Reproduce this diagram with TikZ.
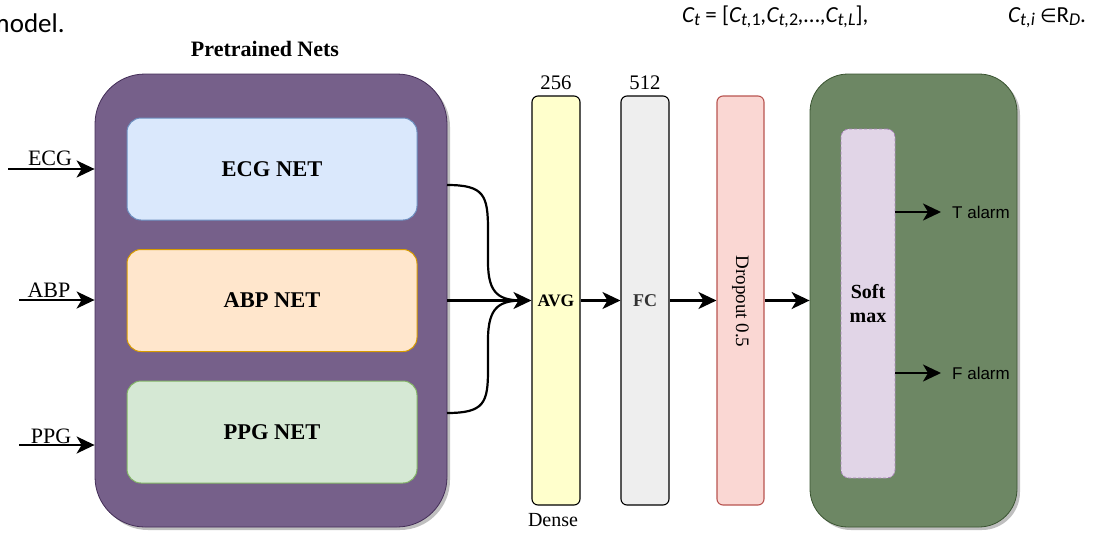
\documentclass[tikz,border=0pt]{standalone}
\usepackage{fontspec}
\setmainfont{Liberation Serif}
\newfontfamily\alarmfont{Liberation Sans}
\newfontfamily\bodyfont{Carlito}
\newfontfamily\symfont{DejaVu Sans}
\usetikzlibrary{arrows.meta,shadows}
\definecolor{purpfill}{HTML}{76608A}
\definecolor{purpline}{HTML}{432D57}
\definecolor{grnfill}{HTML}{6D8764}
\definecolor{grnline}{HTML}{3A5431}
\definecolor{bluefill}{HTML}{DAE8FC}
\definecolor{blueline}{HTML}{6C8EBF}
\definecolor{orgfill}{HTML}{FFE6CC}
\definecolor{orgline}{HTML}{D79B00}
\definecolor{lgfill}{HTML}{D5E8D4}
\definecolor{lgline}{HTML}{82B366}
\definecolor{yelfill}{HTML}{FFFFCC}
\definecolor{greyfill}{HTML}{EEEEEE}
\definecolor{redfill}{HTML}{FAD7D3}
\definecolor{redline}{HTML}{B85450}
\definecolor{smfill}{HTML}{E1D5E7}
\definecolor{smline}{HTML}{A680B8}
\newcommand\lowsub[1]{\raisebox{-0.3ex}{\fontsize{18}{18}\selectfont #1}}
\begin{document}
\begin{tikzpicture}[x=1pt,y=-1pt,
  bigbox/.style={draw, line width=0.8pt, rounded corners=#1, inner sep=0pt,
    drop shadow={shadow xshift=3pt, shadow yshift=-3pt, fill=black, opacity=0.25}},
  netbox/.style={draw, line width=1pt, rounded corners=14pt, minimum width=290pt, minimum height=102pt,
    inner sep=0pt, font=\fontsize{22.5}{24}\selectfont\bfseries},
  layerbox/.style={draw, line width=1.1pt, rounded corners=6pt, minimum width=48pt, minimum height=409pt, inner sep=0pt},
  arr/.style={line width=2.2pt, -{Stealth[length=18pt,width=17pt,inset=5pt]}},
  plainline/.style={line width=2.2pt},
  lbl/.style={font=\fontsize{22}{24}\selectfont, inner sep=0pt},
  numlbl/.style={font=\fontsize{20.7}{22}\selectfont, inner sep=0pt},
  alarmlbl/.style={font=\alarmfont\fontsize{17}{19}\selectfont, inner sep=0pt, anchor=west}
]
\useasboundingbox (0,0) rectangle (1096,536);

% header text fragments
\node[anchor=base west, inner sep=0pt, font=\bodyfont\fontsize{27}{29}\selectfont] (hdrmodel) at (-12,32) {model.};
\node[anchor=base west, inner sep=0pt, font=\bodyfont\fontsize{23}{25}\selectfont] (hdreq) at (682,22)
  {\itshape C\lowsub{t}\upshape{} = [\itshape C\lowsub{t,\upshape 1},C\lowsub{t,\upshape 2},\upshape\dots,\itshape C\lowsub{t,L}\upshape],};
\node[anchor=base west, inner sep=0pt, font=\bodyfont\fontsize{23}{25}\selectfont] (hdrin) at (1008,22)
  {\itshape C\lowsub{t,i}\upshape{} {\symfont\fontsize{19}{20}\selectfont ∈}R\lowsub{\itshape D}.};

% pretrained nets
\node[font=\fontsize{22}{24}\selectfont\bfseries, inner sep=0pt] (pretitle) at (265,49) {Pretrained Nets};
\node[bigbox=50pt, fill=purpfill, draw=purpline, minimum width=352pt, minimum height=453pt] (purple) at (271,300.5) {};
\node[netbox, fill=bluefill, draw=blueline] (ecg) at (272,169) {ECG NET};
\node[netbox, fill=orgfill, draw=orgline] (abp) at (272,300.5) {ABP NET};
\node[netbox, fill=lgfill, draw=lgline] (ppg) at (272,432) {PPG NET};

% inputs
\coordinate (inE) at (8,169);
\coordinate (inA) at (19,300);
\coordinate (inP) at (19,445);
\draw[arr] (inE) -- (inE -| purple.west);
\draw[arr] (inA) -- (inA -| purple.west);
\draw[arr] (inP) -- (inP -| purple.west);
\node[lbl, anchor=base] (lE) at (50,165) {ECG};
\node[lbl, anchor=base] (lA) at (49,297) {ABP};
\node[lbl, anchor=base] (lP) at (51,443) {PPG};

% layers
\node[layerbox, fill=yelfill, font=\fontsize{17.5}{18}\selectfont\bfseries] (dense) at (556,300.5) {AVG};
\node[layerbox, fill=greyfill, text=black!80, font=\fontsize{18}{20}\selectfont\bfseries] (fc) at (645,300.5) {FC};
\node[layerbox, fill=redfill, draw=redline, minimum width=47pt] (drop) at (740.5,300.5) {};
\node[rotate=-90, inner sep=0pt, font=\fontsize{19}{20}\selectfont] (droptext) at (740.5,301.5) {Dropout 0.5};
\node[numlbl] (n256) at (556,83) {256};
\node[numlbl] (n512) at (645,83) {512};
\node[numlbl, font=\fontsize{20}{22}\selectfont] (ldense) at (553,520) {Dense};

% output block
\node[bigbox=38pt, fill=grnfill, draw=grnline, minimum width=207pt, minimum height=453pt] (green) at (913.5,300.5) {};
\node[draw=smline, fill=smfill, dash pattern=on 3pt off 2pt, line width=0.8pt, rounded corners=8pt,
  minimum width=54pt, minimum height=349pt, inner sep=0pt, align=center,
  font=\fontsize{20}{24}\selectfont\bfseries] (softmax) at (868,303.5) {Soft\\max};
\node[alarmlbl] (talarm) at (952,212) {T alarm};
\node[alarmlbl] (falarm) at (952,373) {F alarm};

% merging connectors
\coordinate (o1) at (447,185);
\coordinate (o3) at (447,413);
\draw[plainline] (o1) .. controls (484,185) and (488,195) .. (488,230)
  -- (488,262) .. controls (488,295) and (500,300.5) .. ([xshift=-8pt]dense.west);
\draw[plainline] (o3) .. controls (484,413) and (488,403) .. (488,370)
  -- (488,340) .. controls (488,306) and (500,300.5) .. ([xshift=-8pt]dense.west);
\draw[arr] (purple.east |- dense.west) -- (dense.west);

\draw[arr] (dense.east) -- (fc.west);
\draw[arr] (fc.east) -- (drop.west);
\draw[arr] (drop.east) -- (green.west);
\draw[arr] (softmax.east |- talarm.west) -- ([xshift=-11pt]talarm.west);
\draw[arr] (softmax.east |- falarm.west) -- ([xshift=-11pt]falarm.west);
\end{tikzpicture}
\end{document}
